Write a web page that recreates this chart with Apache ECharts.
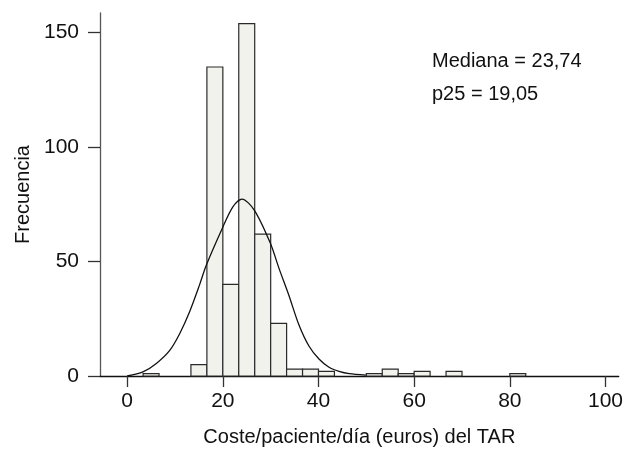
<!DOCTYPE html>
<html>
<head>
<meta charset="utf-8">
<script src="https://cdn.jsdelivr.net/npm/echarts@6/dist/echarts.min.js"></script>
<style>
  html, body { margin: 0; padding: 0; background: #fff; }
  #chart { width: 626px; height: 452px; }
</style>
</head>
<body>
<div id="chart"></div>
<script>
// histogram bins (lower edge, euros) and counts
const binStart = [3.33, 13.33, 16.67, 20, 23.33, 26.67, 30, 33.33, 36.67, 40, 50, 53.33, 56.67, 60, 66.67, 80];
const counts = [1, 5, 135, 40, 154, 62, 23, 3, 3, 2, 1, 3, 1, 2, 2, 1];
const binWidth = 3.333;

// fitted curve
const curveX = [0, 3.3, 6.1, 8.9, 11, 13.1, 15.1, 16.5, 19.9, 22.1, 24, 26.6, 29.9, 31.8, 33.8, 35.9, 38, 40.1, 42.2, 44.3, 46.4, 49.9];
const curveY = [0, 1.8, 5.5, 11.2, 18.6, 28.3, 39.6, 48.2, 64.6, 73.9, 77.3, 72.4, 58.2, 46.7, 35.3, 22.4, 13.1, 7.4, 3.8, 2, 1, 0.4];

const xTicks = [0, 20, 40, 60, 80, 100];
const yTicks = [0, 50, 100, 150];
const notes = ['Mediana = 23,74', 'p25 = 19,05'];

const font = 'Liberation Sans, Arial, sans-serif';
const ink = '#111';

const chart = echarts.init(document.getElementById('chart'));

const bars = binStart.map((b, i) => [b, b + binWidth, counts[i]]);
const curve = curveX.map((x, i) => [x, curveY[i]]);

chart.setOption({
    animation: false,
    backgroundColor: '#fff',
    grid: { left: 100, right: 5, top: 13, bottom: 70 },
    xAxis: {
        type: 'value',
        min: -5.68,
        max: 102.77,
        name: 'Coste/paciente/día (euros) del TAR',
        nameLocation: 'middle',
        nameGap: 51,
        nameTextStyle: { fontFamily: font, fontSize: 20, color: ink },
        axisLine: { onZero: false, lineStyle: { color: '#111', width: 1.3 } },
        axisTick: { show: true, length: 11, customValues: xTicks, lineStyle: { color: '#333', width: 1.3 } },
        axisLabel: { customValues: xTicks, margin: 15, fontFamily: font, fontSize: 21, color: ink },
        splitLine: { show: false }
    },
    yAxis: {
        type: 'value',
        min: 0,
        max: 158.6,
        name: 'Frecuencia',
        nameLocation: 'middle',
        nameGap: 67,
        nameTextStyle: { fontFamily: font, fontSize: 20, color: ink },
        axisLine: { show: true, onZero: false, lineStyle: { color: '#555', width: 1.3 } },
        axisTick: { show: true, length: 12, customValues: yTicks, lineStyle: { color: '#333', width: 1.3 } },
        axisLabel: { customValues: yTicks, margin: 21, fontFamily: font, fontSize: 21, color: ink },
        splitLine: { show: false }
    },
    graphic: notes.map((t, i) => ({
        type: 'text',
        left: 432,
        top: 51 + i * 33.5,
        style: { text: t, fontFamily: font, fontSize: 20, fill: ink }
    })),
    series: [
        {
            type: 'custom',
            data: bars,
            encode: { x: [0, 1], y: 2 },
            renderItem: (params, api) => {
                const p0 = api.coord([api.value(0), 0]);
                const p1 = api.coord([api.value(1), api.value(2)]);
                return {
                    type: 'rect',
                    shape: { x: p0[0], y: p1[1], width: p1[0] - p0[0], height: p0[1] - p1[1] },
                    style: { fill: '#f2f2ed', stroke: '#2a2a2a', lineWidth: 1.2 }
                };
            }
        },
        {
            type: 'line',
            data: curve,
            smooth: 0.3,
            symbol: 'none',
            lineStyle: { color: '#111', width: 1.3 },
            z: 3
        }
    ]
});
</script>
</body>
</html>
